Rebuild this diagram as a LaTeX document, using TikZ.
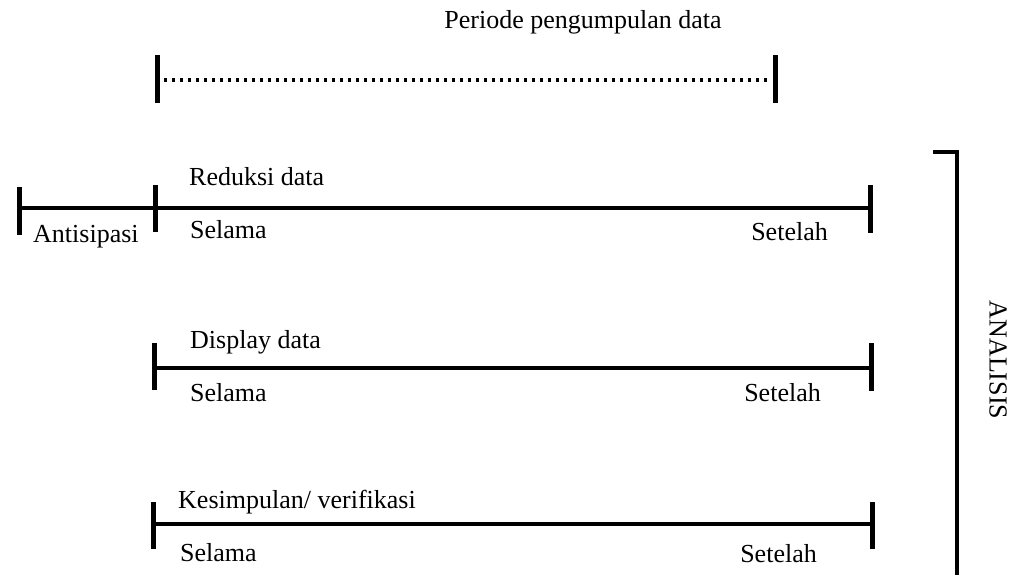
\documentclass[tikz,border=0pt]{standalone}
\usepackage{fontspec}
\setmainfont{Liberation Serif}
\begin{document}
\begin{tikzpicture}[x=1pt,y=-1pt,
  lbl/.style={inner sep=0pt,font=\fontsize{26}{30}\selectfont},
  tline/.style={line width=3.5pt},
  tick/.style={line width=5pt},
  dotline/.style={line width=3.2pt,dash pattern=on 3.2pt off 4.8pt},
  brk/.style={line width=3.5pt}]
\useasboundingbox (0,0) rectangle (1026,574);

% top: data collection period
\node[lbl,anchor=base] (periode) at (583,28) {Periode pengumpulan data};
\coordinate (pA) at (157,80);
\coordinate (pB) at (775,80);
\draw[dotline] ([xshift=7pt]pA) -- ([xshift=-4pt]pB);
\draw[tick] ([yshift=-23pt]pA) -- ([yshift=25pt]pA);
\draw[tick] ([yshift=-23pt]pB) -- ([yshift=25pt]pB);

% row 1
\coordinate (r0) at (19,208);
\coordinate (r1a) at (155,208);
\coordinate (r1b) at (870,208);
\draw[tline] (r0) -- (r1b);
\draw[tick] (19,187) -- (19,235);
\draw[tick] (155,185) -- (155,232);
\draw[tick] (870,185) -- (870,233);
\node[lbl,anchor=base west] (reduksi) at (189,185) {Reduksi data};
\node[lbl,anchor=base west] (selama1) at (190,238) {Selama};
\node[lbl,anchor=base east] (setelah1) at (828,240) {Setelah};
\node[lbl,anchor=base west] (antisipasi) at (33,242) {Antisipasi};

% row 2
\coordinate (r2a) at (154,368);
\coordinate (r2b) at (871,368);
\draw[tline] (r2a) -- (r2b);
\draw[tick] (154,343) -- (154,390);
\draw[tick] (871,343) -- (871,391);
\node[lbl,anchor=base west] (display) at (190,348) {Display data};
\node[lbl,anchor=base west] (selama2) at (190,401) {Selama};
\node[lbl,anchor=base east] (setelah2) at (821,401) {Setelah};

% row 3
\coordinate (r3a) at (153,524);
\coordinate (r3b) at (872,524);
\draw[tline] (r3a) -- (r3b);
\draw[tick] (153,502) -- (153,549);
\draw[tick] (872,502) -- (872,549);
\node[lbl,anchor=base west] (kesimpulan) at (178,508) {Kesimpulan/ verifikasi};
\node[lbl,anchor=base west] (selama3) at (180,561) {Selama};
\node[lbl,anchor=base east] (setelah3) at (817,562) {Setelah};

% bracket
\coordinate (bA) at (933,152);
\coordinate (bB) at (957,152);
\coordinate (bC) at (957,580);
\draw[brk] (bA) -- (bB) -- (bC);
\node[lbl,rotate=-90] (analisis) at (998,360) {ANALISIS};
\end{tikzpicture}
\end{document}
